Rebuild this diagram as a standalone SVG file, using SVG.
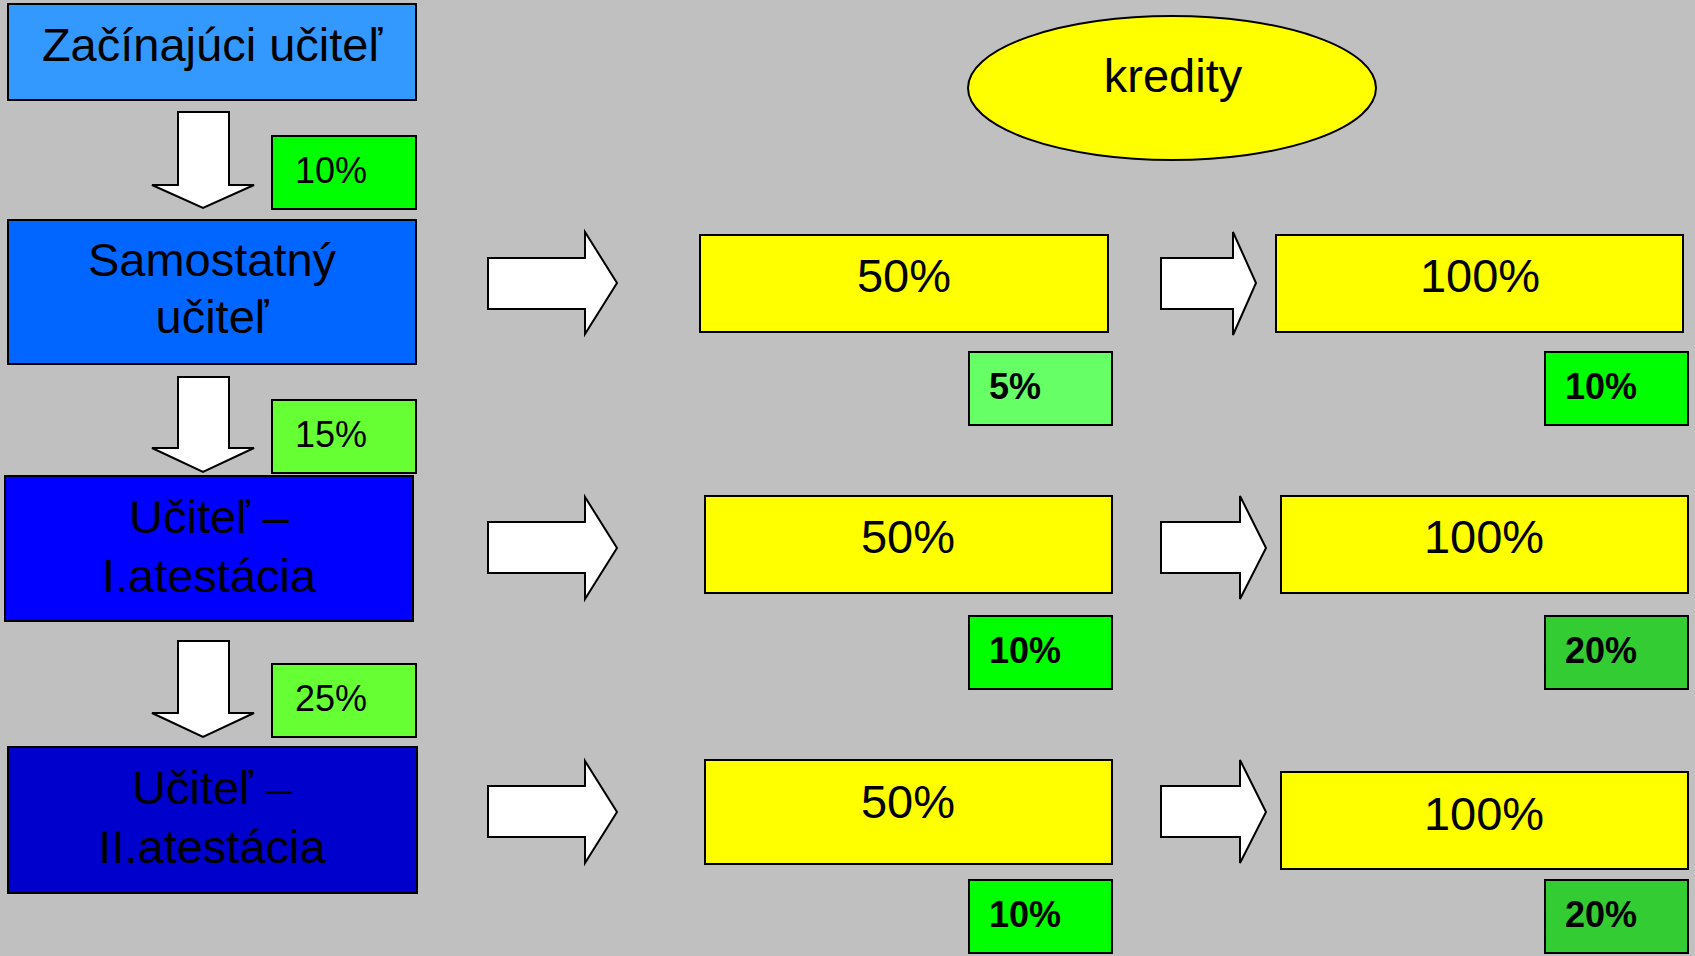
<svg xmlns="http://www.w3.org/2000/svg" width="1695" height="956" viewBox="0 0 1695 956">
<style>
.box{stroke:#000;stroke-width:2}
.arr{fill:#fff;stroke:#000;stroke-width:2;stroke-linejoin:miter}
.big{font-family:"Liberation Sans",Arial,sans-serif;font-size:47px;fill:#000;text-anchor:middle}
.sm{font-family:"Liberation Sans",Arial,sans-serif;font-size:36px;fill:#000}
.smb{font-family:"Liberation Sans",Arial,sans-serif;font-size:36px;font-weight:bold;fill:#000}
.y{fill:#FFFF00}
</style>
<rect x="0" y="0" width="1695" height="956" fill="#C0C0C0"/>

<g id="connectors">
  <polygon class="arr" points="178,112 229,112 229,185 254,185 203,208 152,185 178,185"/>
  <polygon class="arr" points="178,377 229,377 229,448 254,448 203,472 152,448 178,448"/>
  <polygon class="arr" points="178,641 229,641 229,713 254,713 203,737 152,713 178,713"/>
  <polygon class="arr" points="488,258 585,258 585,232 617,283 585,334 585,309 488,309"/>
  <polygon class="arr" points="488,522 585,522 585,497 617,548 585,599 585,573 488,573"/>
  <polygon class="arr" points="488,786 585,786 585,761 617,812 585,863 585,837 488,837"/>
  <polygon class="arr" points="1161,258 1233,258 1233,232 1256,283 1233,335 1233,309 1161,309"/>
  <polygon class="arr" points="1161,522 1240,522 1240,496 1266,548 1240,599 1240,573 1161,573"/>
  <polygon class="arr" points="1161,786 1240,786 1240,760 1266,812 1240,863 1240,837 1161,837"/>
</g>

<g id="zacinajuci">
  <rect class="box" x="8" y="4" width="408" height="96" fill="#3399FF"/>
  <text class="big" x="212" y="61">Začínajúci učiteľ</text>
</g>
<g id="samostatny">
  <rect class="box" x="8" y="220" width="408" height="144" fill="#0066FF"/>
  <text class="big" x="212" y="276">Samostatný</text>
  <text class="big" x="212" y="333">učiteľ</text>
</g>
<g id="atestacia1">
  <rect class="box" x="5" y="476" width="408" height="145" fill="#0000FF"/>
  <text class="big" x="209" y="533">Učiteľ –</text>
  <text class="big" x="209" y="592">I.atestácia</text>
</g>
<g id="atestacia2">
  <rect class="box" x="8" y="747" width="409" height="146" fill="#0000CC"/>
  <text class="big" x="212" y="804">Učiteľ –</text>
  <text class="big" x="212" y="863">II.atestácia</text>
</g>

<g id="p10">
  <rect class="box" x="272" y="136" width="144" height="73" fill="#00FF00"/>
  <text class="sm" x="295" y="183">10%</text>
</g>
<g id="p15">
  <rect class="box" x="272" y="400" width="144" height="73" fill="#66FF33"/>
  <text class="sm" x="295" y="447">15%</text>
</g>
<g id="p25">
  <rect class="box" x="272" y="664" width="144" height="73" fill="#66FF33"/>
  <text class="sm" x="295" y="711">25%</text>
</g>

<g id="kredity">
  <ellipse cx="1172" cy="88" rx="204" ry="72" fill="#FFFF00" stroke="#000" stroke-width="2"/>
  <text class="big" x="1173" y="92">kredity</text>
</g>

<g id="r1a">
  <rect class="box y" x="700" y="235" width="408" height="97"/>
  <text class="big" x="904" y="292">50%</text>
</g>
<g id="r1b">
  <rect class="box y" x="1276" y="235" width="407" height="97"/>
  <text class="big" x="1480" y="292">100%</text>
</g>
<g id="r2a">
  <rect class="box y" x="705" y="496" width="407" height="97"/>
  <text class="big" x="908" y="553">50%</text>
</g>
<g id="r2b">
  <rect class="box y" x="1281" y="496" width="407" height="97"/>
  <text class="big" x="1484" y="553">100%</text>
</g>
<g id="r3a">
  <rect class="box y" x="705" y="760" width="407" height="104"/>
  <text class="big" x="908" y="818">50%</text>
</g>
<g id="r3b">
  <rect class="box y" x="1281" y="772" width="407" height="97"/>
  <text class="big" x="1484" y="830">100%</text>
</g>

<g id="s1a">
  <rect class="box" x="969" y="352" width="143" height="73" fill="#66FF66"/>
  <text class="smb" x="989" y="399">5%</text>
</g>
<g id="s1b">
  <rect class="box" x="1545" y="352" width="143" height="73" fill="#00FF00"/>
  <text class="smb" x="1565" y="399">10%</text>
</g>
<g id="s2a">
  <rect class="box" x="969" y="616" width="143" height="73" fill="#00FF00"/>
  <text class="smb" x="989" y="663">10%</text>
</g>
<g id="s2b">
  <rect class="box" x="1545" y="616" width="143" height="73" fill="#33CC33"/>
  <text class="smb" x="1565" y="663">20%</text>
</g>
<g id="s3a">
  <rect class="box" x="969" y="880" width="143" height="73" fill="#00FF00"/>
  <text class="smb" x="989" y="927">10%</text>
</g>
<g id="s3b">
  <rect class="box" x="1545" y="880" width="143" height="73" fill="#33CC33"/>
  <text class="smb" x="1565" y="927">20%</text>
</g>
</svg>
